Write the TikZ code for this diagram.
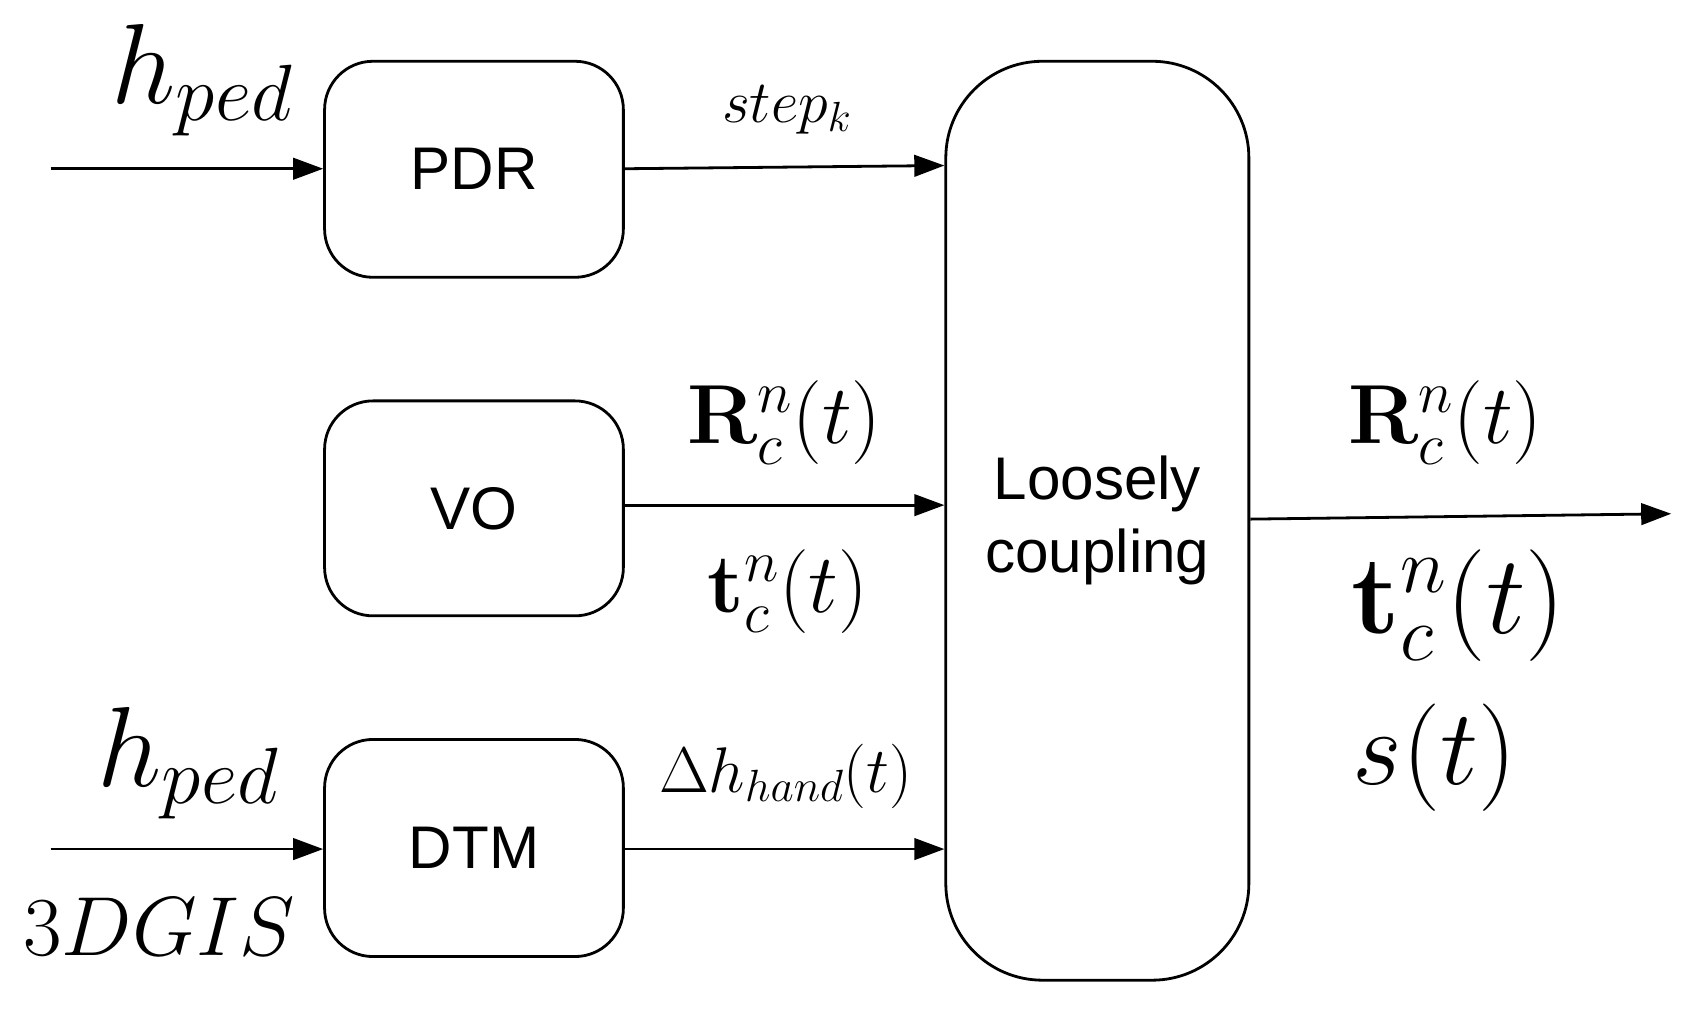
\documentclass[tikz,border=0pt]{standalone}
\usepackage{fix-cm}
\usepackage{amsmath}
\usepackage[no-math]{fontspec}
\newfontfamily\helv{Liberation Sans}
\usetikzlibrary{arrows.meta}
\begin{document}
\begin{tikzpicture}[x=1pt,y=-1pt,line width=2.6pt,
  box/.style={draw,rounded corners=45pt},
  arr/.style={-{Triangle[length=28pt,width=20pt]}},
  lbl/.style={font=\helv\fontsize{56}{68}\selectfont,align=center},
  m/.style={inner sep=0pt}]
\useasboundingbox (0,0) rectangle (1565,943);
\node[box,minimum width=278pt,minimum height=201pt,lbl] (pdr) at (441,157.5) {PDR};
\node[box,minimum width=278pt,minimum height=200pt,lbl] (vo) at (441,473) {VO};
\node[box,minimum width=278pt,minimum height=202pt,lbl] (dtm) at (441,789) {DTM};
\node[draw,rounded corners=90pt,minimum width=282pt,minimum height=855pt,lbl] (lc) at (1021,484.5) {Loosely\\coupling};
\coordinate (i1) at (47,157);
\coordinate (i3) at (47,790);
\coordinate (o) at (1555,478);
\draw[arr] (i1) -- (pdr.west |- i1);
\draw[arr] (i3) -- (dtm.west |- i3);
\draw[arr] (pdr.east |- 0,157) -- (lc.west |- 0,154);
\draw[arr] (vo.east |- 0,470) -- (lc.west |- 0,470);
\draw[arr] (dtm.east |- 0,790) -- (lc.west |- 0,790);
\draw[arr] (lc.east |- 0,483) -- (o);
\node[m,font=\fontsize{106}{110}\selectfont] (h1) at (188,75) {$h_{ped}$};
\node[m,font=\fontsize{106}{110}\selectfont] (h2) at (175,710) {$h_{ped}$};
\node[m,font=\fontsize{78}{82}\selectfont] (g) at (148,862) {$3DGIS$};
\node[m,font=\fontsize{56}{60}\selectfont] (s) at (732,102) {$step_k$};
\node[m,font=\fontsize{78}{82}\selectfont] (r1) at (730,393) {$\mathbf{R}_c^n(t)$};
\node[m,font=\fontsize{78}{82}\selectfont] (t1) at (733,550) {$\mathbf{t}_c^n(t)$};
\node[m,font=\fontsize{60}{64}\selectfont] (d) at (731,722) {$\Delta h_{hand}(t)$};
\node[m,font=\fontsize{78}{82}\selectfont] (r2) at (1345,393) {$\mathbf{R}_c^n(t)$};
\node[m,font=\fontsize{104}{108}\selectfont] (t2) at (1357,563) {$\mathbf{t}_c^n(t)$};
\node[m,font=\fontsize{100}{104}\selectfont] (st) at (1335,705) {$s(t)$};
\end{tikzpicture}
\end{document}
